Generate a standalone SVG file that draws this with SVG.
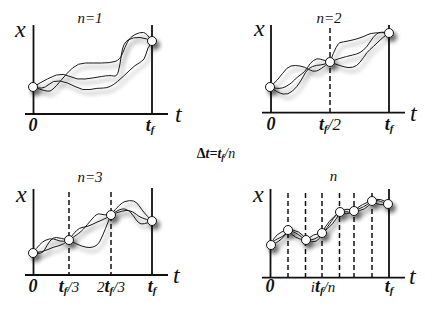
<svg xmlns="http://www.w3.org/2000/svg" width="436" height="327" viewBox="0 0 436 327">
<defs>
<filter id="sh" x="-20%" y="-20%" width="140%" height="150%">
<feGaussianBlur in="SourceAlpha" stdDeviation="2.2" result="b"/>
<feOffset in="b" dx="3" dy="4" result="o"/>
<feComponentTransfer in="o" result="s"><feFuncA type="linear" slope="0.6"/></feComponentTransfer>
<feMerge><feMergeNode in="s"/><feMergeNode in="SourceGraphic"/></feMerge>
</filter>
</defs>
<style>
.ax{stroke:#111;stroke-width:1.8;fill:none}
.dash{stroke:#111;stroke-width:1.5;stroke-dasharray:5 3;fill:none}
.cv{stroke:#1a1a1a;stroke-width:1;fill:none}
.pt{fill:#fff;stroke:#111;stroke-width:1}
text{font-family:'Liberation Serif','Times New Roman','DejaVu Serif',serif;font-style:italic;fill:#111}
.big{font-size:24px}
.tk{font-size:18px;font-weight:bold}
.sb{font-size:11px;font-weight:bold}
.nn{font-size:15px}
</style>
<rect width="436" height="327" fill="#fff"/>

<g id="panel1">
<path class="ax" d="M25,114H168M33.5,25V115M152,25V114"/>
<g id="paths1" filter="url(#sh)">
<path class="cv" d="M33,87 Q47,92 50,91 Q53,90 60,81.5 Q67,73 72.5,68 Q78,63 85.5,63 Q93,63 101.5,63 Q110,63 115,61.5 Q120,60 122.5,53.5 Q125,47 127.5,42 Q130,37 135,34.5 Q140,32 143.5,32.5 Q147,33 152,42"/>
<path class="cv" d="M33,87 Q50,77 56.5,75 Q63,73 70,76.5 Q77,80 85,79 Q93,78 101.5,76.5 Q110,75 113.5,76 Q117,77 118.5,71 Q120,65 121.5,54 Q123,43 128,40 Q133,37 140,37.5 Q147,38 152,42"/>
<path class="cv" d="M33,87 Q43,90 48,85 Q53,80 60,81 Q67,82 75,86.5 Q83,91 90,89.5 Q97,88 103.5,88 Q110,88 117.5,81.5 Q125,75 130,70 Q135,65 140,62.5 Q145,60 146,54 Q147,48 152,42"/>
<circle class="pt" cx="33" cy="87" r="4.5"/>
<circle class="pt" cx="152" cy="41" r="4.5"/>
</g>
<text class="big" x="15" y="37">x</text>
<text class="big" x="175" y="122">t</text>
<text class="nn" x="90" y="23" text-anchor="middle">n=1</text>
<text class="tk" x="33" y="131" text-anchor="middle">0</text>
<text x="150" y="131" text-anchor="middle"><tspan class="tk">t</tspan><tspan class="sb" dy="2">f</tspan></text>
</g>

<g id="panel2">
<path class="ax" d="M262,112.7H405M271,25V113.5M389,25V112.7"/>
<path class="dash" d="M330,28V112.7"/>
<g id="paths2" filter="url(#sh)">
<path class="cv" d="M270,87 Q278,93 283,94 Q288,95 292.5,91 Q297,87 300,82 Q303,77 305.5,72.5 Q308,68 312.5,66.5 Q317,65 320,65 Q323,65 330,62"/>
<path class="cv" d="M270,87 Q278,80 282.5,73.5 Q287,67 291,66 Q295,65 300,66 Q305,67 309,69.5 Q313,72 316.5,71 Q320,70 330,62"/>
<path class="cv" d="M270,87 Q280,90 286,86.5 Q292,83 294.5,80 Q297,77 301,74.5 Q305,72 307.5,67.5 Q310,63 313.5,60.5 Q317,58 320,59 Q323,60 330,62"/>
<path class="cv" d="M330,62 Q337,43 340,42.5 Q343,42 348,41 Q353,40 358,38.5 Q363,37 368,34.5 Q373,32 389,33"/>
<path class="cv" d="M330,62 Q340,58 346.5,56.5 Q353,55 356.5,54 Q360,53 363.5,50 Q367,47 370,42 Q373,37 376.5,34 Q380,31 389,33"/>
<path class="cv" d="M330,62 Q343,67 348,67.5 Q353,68 356.5,65.5 Q360,63 363.5,57.5 Q367,52 370,49.5 Q373,47 378,42 Q383,37 389,33"/>
<circle class="pt" cx="270" cy="87" r="4.5"/>
<circle class="pt" cx="330" cy="62" r="4.5"/>
<circle class="pt" cx="389" cy="33" r="4.5"/>
</g>
<text class="big" x="254" y="36">x</text>
<text class="big" x="410" y="121">t</text>
<text class="nn" x="329" y="23" text-anchor="middle">n=2</text>
<text class="tk" x="271" y="130" text-anchor="middle">0</text>
<text x="330" y="130" text-anchor="middle"><tspan class="tk">t</tspan><tspan class="sb" dy="2">f</tspan><tspan font-size="17" dy="-2">/2</tspan></text>
<text x="389" y="130" text-anchor="middle"><tspan class="tk">t</tspan><tspan class="sb" dy="2">f</tspan></text>
</g>

<text id="delta" x="216" y="158" text-anchor="middle" font-size="14" font-weight="bold"><tspan font-style="normal">Δ</tspan>t=t<tspan font-size="9" dy="2">f</tspan><tspan dy="-2" font-weight="normal">/n</tspan></text>

<g id="panel3">
<path class="ax" d="M25,275H168M33.5,189V276M152,188V275"/>
<path class="dash" d="M69,192V275M111,192V275"/>
<g id="paths3" filter="url(#sh)">
<path class="cv" d="M33,253 Q40,243 45,240.5 Q50,238 53.5,239 Q57,240 60,241 Q63,242 69,240"/>
<path class="cv" d="M33,253 Q42,255 44.5,250 Q47,245 50,241 Q53,237 56.5,237.5 Q60,238 69,240"/>
<path class="cv" d="M33,253 Q43,252 48,249.5 Q53,247 58,246 Q63,245 69,240"/>
<path class="cv" d="M69,240 Q77,228 82,227.5 Q87,227 92,224.5 Q97,222 102,220 Q107,218 111,215"/>
<path class="cv" d="M69,240 Q80,233 83.5,229 Q87,225 92,219 Q97,213 100,214 Q103,215 111,215"/>
<path class="cv" d="M69,240 Q83,248 90,247.5 Q97,247 100,241 Q103,235 105.5,228.5 Q108,222 111,215"/>
<path class="cv" d="M111,215 Q120,203 125,201.5 Q130,200 133.5,201 Q137,202 140,207 Q143,212 152,221"/>
<path class="cv" d="M111,215 Q123,210 128,210.5 Q133,211 136.5,214.5 Q140,218 152,221"/>
<path class="cv" d="M111,215 Q120,208 125,209 Q130,210 133.5,216 Q137,222 140,223.5 Q143,225 152,221"/>
<circle class="pt" cx="33" cy="253" r="4.5"/>
<circle class="pt" cx="69" cy="240" r="4.5"/>
<circle class="pt" cx="111" cy="215" r="4.5"/>
<circle class="pt" cx="152" cy="221" r="4.5"/>
</g>
<text class="big" x="16" y="202">x</text>
<text class="big" x="173" y="283">t</text>
<text class="nn" x="90" y="182" text-anchor="middle">n=3</text>
<text class="tk" x="33" y="292" text-anchor="middle">0</text>
<text x="69" y="292" text-anchor="middle"><tspan class="tk">t</tspan><tspan class="sb" dy="2">f</tspan><tspan font-size="15" dy="-2">/3</tspan></text>
<text x="111" y="292" text-anchor="middle"><tspan font-size="15">2</tspan><tspan class="tk">t</tspan><tspan class="sb" dy="2">f</tspan><tspan font-size="15" dy="-2">/3</tspan></text>
<text x="152" y="292" text-anchor="middle"><tspan class="tk">t</tspan><tspan class="sb" dy="2">f</tspan></text>
</g>

<g id="panel4">
<path class="ax" d="M262,277.7H405M270.5,189V278.5M389,189V277.7"/>
<path class="dash" d="M288,193V277.7M305.5,193V277.7M322,193V277.7M339.5,193V277.7M354,193V277.7M372,193V277.7"/>
<g id="paths4" filter="url(#sh)">
<path class="cv" d="M271,245 Q275,232 288,230 M271,245 Q283,241 288,230 M271,245 C276,236 283,240 288,230"/>
<path class="cv" d="M288,230 Q300,229 306,240 M288,230 Q294.5,239.5 306,240 M288,230 C296,232 300,236 306,240"/>
<path class="cv" d="M306,240 Q313,233.5 322,233 M306,240 Q318,246 322,233 M306,240 Q316,241 322,233"/>
<path class="cv" d="M322,233 Q328,220 340,212 M322,233 Q334,225 340,212 M322,233 C330,226 333,216 340,212"/>
<path class="cv" d="M340,212 Q347,207 354,211 M340,212 Q347,216 354,211 M340,212 C345,210 349,214 354,211"/>
<path class="cv" d="M354,211 Q361.5,203.5 372,201 M354,211 Q366,211.5 372,201 M354,211 C361,208 366,206 372,201"/>
<path class="cv" d="M372,201 Q381,196.5 388,204 M372,201 Q379,206.5 388,204 M372,201 C378,199 383,203 388,204"/>
<circle class="pt" cx="271" cy="245" r="4.5"/>
<circle class="pt" cx="288" cy="230" r="4.5"/>
<circle class="pt" cx="306" cy="240" r="4.5"/>
<circle class="pt" cx="322" cy="233" r="4.5"/>
<circle class="pt" cx="340" cy="212" r="4.5"/>
<circle class="pt" cx="354" cy="211" r="4.5"/>
<circle class="pt" cx="372" cy="201" r="4.5"/>
<circle class="pt" cx="388" cy="204" r="4.5"/>
</g>
<text class="big" x="253" y="202">x</text>
<text class="big" x="409" y="284">t</text>
<text class="nn" x="333.5" y="181" text-anchor="middle">n</text>
<text class="tk" x="270" y="292" text-anchor="middle">0</text>
<text x="323" y="292" text-anchor="middle"><tspan font-size="15">i</tspan><tspan class="tk">t</tspan><tspan class="sb" dy="2">f</tspan><tspan font-size="15" dy="-2">/n</tspan></text>
<text x="389" y="292" text-anchor="middle"><tspan class="tk">t</tspan><tspan class="sb" dy="2">f</tspan></text>
</g>
</svg>
